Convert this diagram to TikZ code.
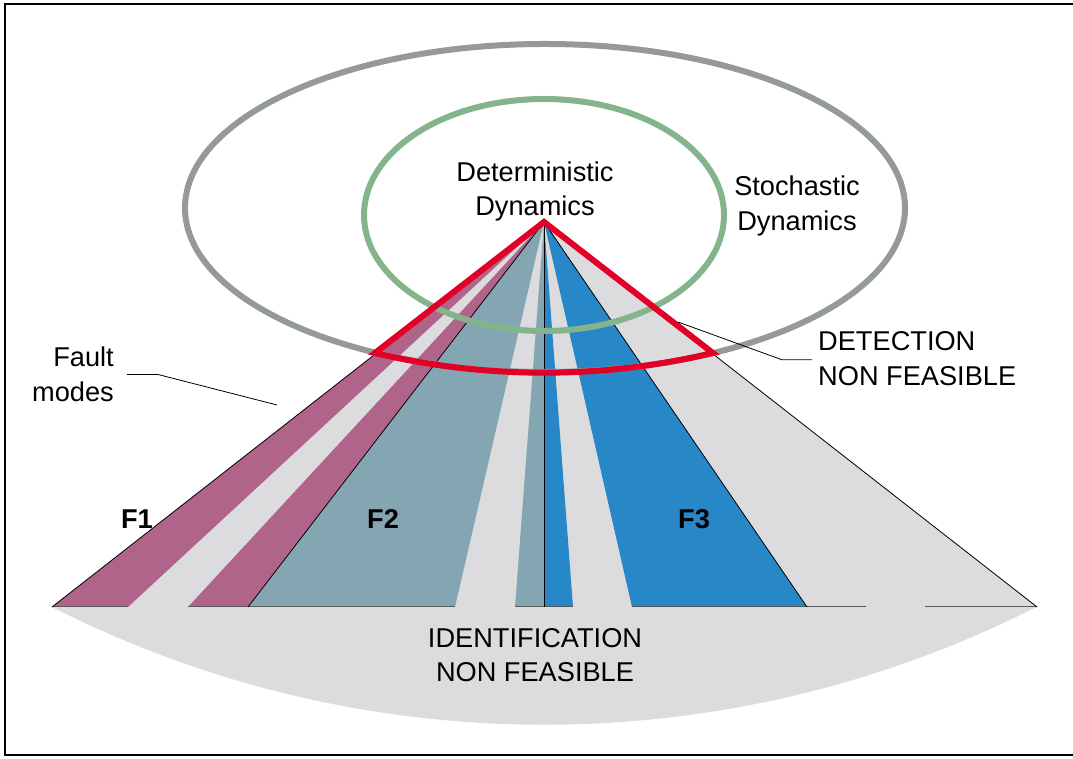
\documentclass[tikz,border=0pt]{standalone}
\usepackage{fontspec}
\setmainfont{Liberation Sans}
\definecolor{fangray}{RGB}{220,220,222}
\definecolor{magentaF}{RGB}{177,100,138}
\definecolor{tealF}{RGB}{132,166,178}
\definecolor{blueF}{RGB}{39,135,199}
\definecolor{redF}{RGB}{226,0,40}
\definecolor{grayE}{RGB}{148,155,148}
\definecolor{greenE}{RGB}{132,180,140}
\begin{document}
\begin{tikzpicture}[x=1pt,y=1pt,
  lbl/.style={font=\fontsize{27.2}{34.5}\selectfont, inner sep=0pt},
  flbl/.style={font=\fontsize{27.2}{34.5}\selectfont\bfseries, inner sep=0pt},
  fanedge/.style={black, line width=0.8pt},
  fanbase/.style={draw=black!65, line width=1pt},
  leader/.style={black, line width=0.8pt},
  ring/.style={line width=6pt}]
\useasboundingbox (0,0) rectangle (1073,759);
% frame
\draw[line width=2.8pt] (1073,4) -- (5,4) -- (5,755) -- (1073,755);
% fan
\coordinate (A) at (544,537);
\coordinate (L) at (52,152);
\coordinate (R) at (1037,152);
\fill[fangray] (A) -- (L) arc[start angle=243.08, end angle=296.97, radius=1087] -- cycle;
\fill[magentaF] (A) -- (52,152) -- (128,152) -- cycle;
\fill[magentaF] (A) -- (188,152) -- (248,152) -- cycle;
\fill[tealF] (A) -- (248,152) -- (455,152) -- cycle;
\fill[tealF] (A) -- (515,152) -- (544,152) -- cycle;
\fill[blueF] (A) -- (544,152) -- (573,152) -- cycle;
\fill[blueF] (A) -- (632,152) -- (807,152) -- cycle;
% base lines
\draw[fanbase] (52,152) -- (128,152);
\draw[fanbase] (188,152) -- (455,152);
\draw[fanbase] (515,152) -- (573,152);
\draw[fanbase] (632,152) -- (866,152);
\draw[fanbase] (925,152) -- (1037,152);
% black edges
\draw[fanedge] (A) -- (L);
\draw[fanedge] (A) -- (248,152);
\draw[fanedge] (A) -- (544,152);
\draw[fanedge] (A) -- (807,152);
\draw[fanedge] (A) -- (R);
% ellipses
\draw[ring, grayE] (545,551) ellipse[x radius=360, y radius=164];
\draw[ring, greenE] (544,544) ellipse[x radius=180, y radius=116];
% red sector
\draw[ring, redF, line join=miter] (A) -- (375,406) arc[start angle=256.7, end angle=283.3, radius=734.4] -- cycle;
% labels
\node[lbl, align=center] (det) at (535,567.4) {Deterministic\\Dynamics};
\node[lbl, align=center] (sto) at (797,553) {Stochastic\\Dynamics};
\node[lbl, align=right, anchor=east] (fault) at (114,384.5) {Fault\\modes};
\node[lbl, align=left, anchor=west] (detect) at (818,400.2) {DETECTION\\NON FEASIBLE};
\node[lbl, align=center] (ident) at (535,104) {IDENTIFICATION\\NON FEASIBLE};
\node[flbl, anchor=base] (f1) at (137,230) {F1};
\node[flbl, anchor=base] (f2) at (383,230) {F2};
\node[flbl, anchor=base] (f3) at (694,230) {F3};
% leaders
\coordinate (fmEnd) at (277,354);
\coordinate (dtEnd) at (678,437);
\draw[leader] ([xshift=13pt]fault.east) -- ++(31,0) -- (fmEnd);
\draw[leader] ([xshift=-6pt,yshift=-1pt]detect.west) -- ++(-30,0) -- (dtEnd);
\end{tikzpicture}
\end{document}
